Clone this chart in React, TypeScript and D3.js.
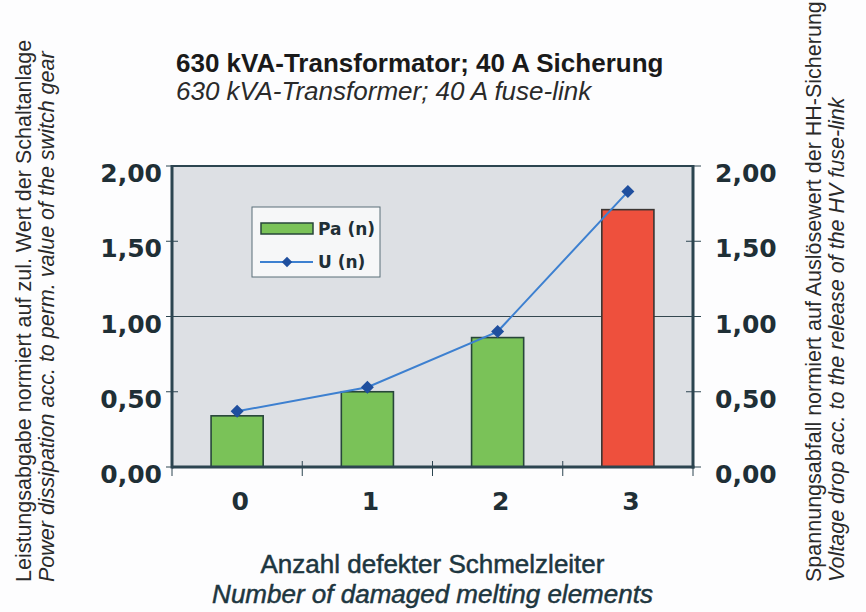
import React from 'react';
import * as d3 from 'd3';

const width = 866;
const height = 612;

const categories = ['0', '1', '2', '3'];
const paValues = [0.34, 0.5, 0.86, 1.71];
const uValues = [0.37, 0.53, 0.9, 1.83];
const barColors = ['#7ac258', '#7ac258', '#7ac258', '#ee503d'];
const yTicks = [0, 0.5, 1, 1.5, 2];

const titleDe = '630 kVA-Transformator; 40 A Sicherung';
const titleEn = '630 kVA-Transformer; 40 A fuse-link';
const xTitleDe = 'Anzahl defekter Schmelzleiter';
const xTitleEn = 'Number of damaged melting elements';
const yLeftDe = 'Leistungsabgabe normiert auf zul. Wert der Schaltanlage';
const yLeftEn = 'Power dissipation acc. to perm. value of the switch gear';
const yRightDe = 'Spannungsabfall normiert auf Auslösewert der HH-Sicherung';
const yRightEn = 'Voltage drop acc. to the release of the HV fuse-link';
const legendLabels = ['Pa (n)', 'U (n)'];

const margin = { top: 166, right: 173, bottom: 145, left: 172 };
const axisColor = '#2c4550';
const textColor = '#1f2f36';
const sans = 'Liberation Sans, Arial, sans-serif';
const wide = 'DejaVu Sans, Verdana, sans-serif';

const fmt = (v: number) => d3.format('.2f')(v).replace('.', ',');

export default function App() {
  const x = d3
    .scaleBand<string>()
    .domain(categories)
    .range([margin.left, width - margin.right])
    .padding(0);
  const y = d3
    .scaleLinear()
    .domain([0, 2])
    .range([height - margin.bottom, margin.top]);

  const barW = x.bandwidth() * 0.4;
  const cx = (c: string) => (x(c) as number) + x.bandwidth() / 2;

  const line = d3
    .line<number>()
    .x((_, i) => cx(categories[i]))
    .y((d) => y(d));

  // square turned 45deg = the diamond marker
  const diamond = d3.symbol(d3.symbolSquare, 85)() as string;

  const x0 = margin.left;
  const x1 = width - margin.right;
  const y0 = y(0);
  const yTop = y(2);

  return (
    <svg
      width={width}
      height={height}
      style={{ position: 'absolute', left: 0, top: 0, background: '#fdfdfe' }}
    >
      {/* titles */}
      <text x={176} y={72} fontFamily={sans} fontWeight="bold" fontSize={26} fill="#1a1a1a">
        {titleDe}
      </text>
      <text x={176} y={100} fontFamily={sans} fontStyle="italic" fontSize={26} fill="#2a2a2a">
        {titleEn}
      </text>

      {/* plot area */}
      <rect x={x0} y={yTop} width={x1 - x0} height={y0 - yTop} fill="#dde0e4" />
      <line x1={x0} x2={x1} y1={y(1)} y2={y(1)} stroke="#34474f" strokeWidth={1.2} />

      {/* bars */}
      {paValues.map((v, i) => (
        <rect
          key={categories[i]}
          x={cx(categories[i]) - barW / 2}
          y={y(v)}
          width={barW}
          height={y0 - y(v)}
          fill={barColors[i]}
          stroke={i === 3 ? '#3b3532' : '#27463a'}
          strokeWidth={1.6}
        />
      ))}

      {/* line series */}
      <path d={line(uValues) as string} fill="none" stroke="#3d80d0" strokeWidth={2} />
      {uValues.map((v, i) => (
        <path
          key={i}
          d={diamond}
          transform={`translate(${cx(categories[i])},${y(v)}) rotate(45)`}
          fill="#1f4f9e"
        />
      ))}

      {/* frame */}
      <line x1={x0} x2={x1} y1={yTop} y2={yTop} stroke={axisColor} strokeWidth={2} />
      <line x1={x0} x2={x0} y1={yTop - 1} y2={y0 + 1.5} stroke={axisColor} strokeWidth={3} />
      <line x1={x1} x2={x1} y1={yTop - 1} y2={y0 + 1.5} stroke={axisColor} strokeWidth={3} />
      <line x1={x0} x2={x1 + 1.5} y1={y0} y2={y0} stroke={axisColor} strokeWidth={3} />

      {/* y ticks and labels, both sides */}
      {yTicks.map((t) => (
        <g key={t}>
          <line x1={x0 - 6} x2={x0 + 6} y1={y(t)} y2={y(t)} stroke={axisColor} strokeWidth={1} />
          <line x1={x1 - 7} x2={x1 + 8} y1={y(t)} y2={y(t)} stroke={axisColor} strokeWidth={1} />
          <text
            x={x0 - 10}
            y={y(t) + 16}
            textAnchor="end"
            fontFamily={wide}
            fontWeight="bold"
            fontSize={25}
            fill={textColor}
          >
            {fmt(t)}
          </text>
          <text
            x={x1 + 22}
            y={y(t) + 16}
            textAnchor="start"
            fontFamily={wide}
            fontWeight="bold"
            fontSize={25}
            fill={textColor}
          >
            {fmt(t)}
          </text>
        </g>
      ))}

      {/* x ticks at band edges */}
      {categories.map((c) => (
        <line
          key={c}
          x1={(x(c) as number) + x.bandwidth()}
          x2={(x(c) as number) + x.bandwidth()}
          y1={y0 - 6}
          y2={y0 + 9}
          stroke={axisColor}
          strokeWidth={1}
        />
      ))}
      <line x1={x0} x2={x0} y1={y0} y2={y0 + 9} stroke={axisColor} strokeWidth={1} />
      {categories.map((c) => (
        <text
          key={c}
          x={cx(c) + 3}
          y={y0 + 43}
          textAnchor="middle"
          fontFamily={wide}
          fontWeight="bold"
          fontSize={25}
          fill={textColor}
        >
          {c}
        </text>
      ))}

      {/* x axis title */}
      <text
        x={(x0 + x1) / 2}
        y={573}
        textAnchor="middle"
        fontFamily={sans}
        fontSize={26}
        fill="#1d3640"
        stroke="#1d3640"
        strokeWidth={0.5}
      >
        {xTitleDe}
      </text>
      <text
        x={(x0 + x1) / 2}
        y={603}
        textAnchor="middle"
        fontFamily={sans}
        fontStyle="italic"
        fontSize={26}
        fill="#1d3640"
        stroke="#1d3640"
        strokeWidth={0.5}
      >
        {xTitleEn}
      </text>

      {/* vertical axis titles */}
      <g transform="translate(31,582) rotate(-90)">
        <text fontFamily={sans} fontSize={21.5} fill="#2a2a2a">
          {yLeftDe}
        </text>
        <text y={23} fontFamily={sans} fontStyle="italic" fontSize={21.5} fill="#2a2a2a">
          {yLeftEn}
        </text>
      </g>
      <g transform="translate(821,582) rotate(-90)">
        <text fontFamily={sans} fontSize={21.5} fill="#2a2a2a">
          {yRightDe}
        </text>
        <text y={23} fontFamily={sans} fontStyle="italic" fontSize={21.5} fill="#2a2a2a">
          {yRightEn}
        </text>
      </g>

      {/* legend */}
      <g>
        <rect x={252} y={207} width={128} height={70} fill="#f6f7f8" stroke="#5b6f78" strokeWidth={1} />
        <rect x={261} y={223} width={52} height={11} fill="#7ac258" stroke="#27463a" strokeWidth={1.5} />
        <line x1={260} x2={313} y1={262} y2={262} stroke="#3d80d0" strokeWidth={2} />
        <path d={diamond} transform="translate(287,262) rotate(45) scale(0.8)" fill="#1f4f9e" />
        <text x={318} y={235} fontFamily={wide} fontWeight="bold" fontSize={17} fill={textColor}>
          {legendLabels[0]}
        </text>
        <text x={318} y={268} fontFamily={wide} fontWeight="bold" fontSize={17} fill={textColor}>
          {legendLabels[1]}
        </text>
      </g>
    </svg>
  );
}
